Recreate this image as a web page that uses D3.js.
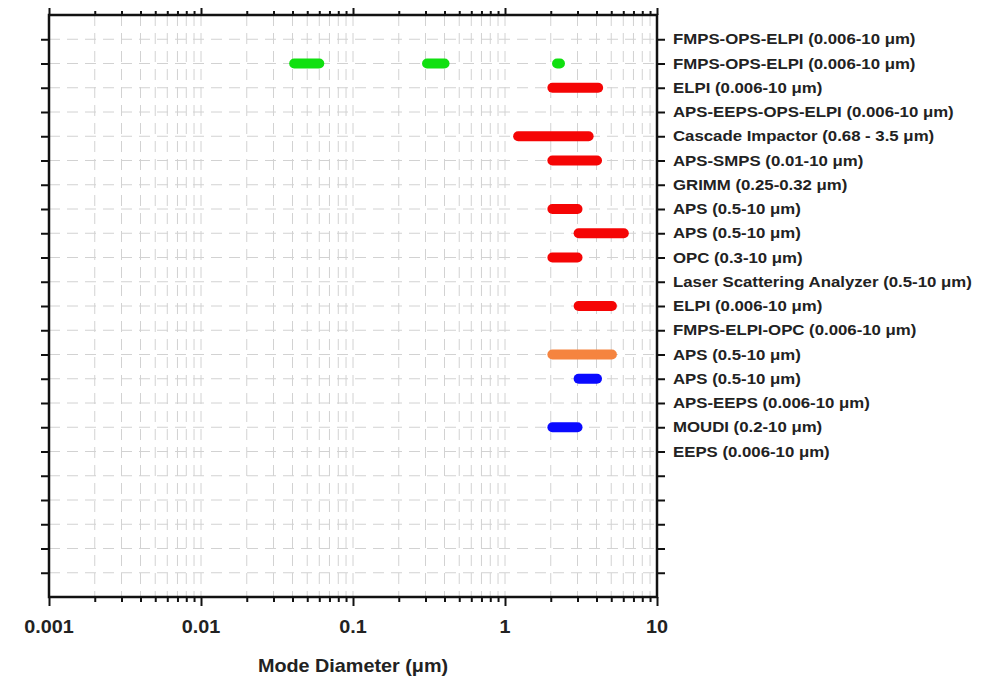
<!DOCTYPE html>
<html>
<head>
<meta charset="utf-8">
<script src="https://cdn.jsdelivr.net/npm/d3@7"></script>
<style>
  html, body { margin: 0; padding: 0; background: #fff; }
  svg { display: block; }
  text { font-family: "Liberation Sans", Arial, Helvetica, sans-serif; font-weight: bold; fill: #222; }
</style>
</head>
<body>
<svg id="chart" width="997" height="678"></svg>
<script>
// ---------- data ----------
const rowLabels = [
  "FMPS-OPS-ELPI (0.006-10 \u03BCm)",
  "FMPS-OPS-ELPI (0.006-10 \u03BCm)",
  "ELPI (0.006-10 \u03BCm)",
  "APS-EEPS-OPS-ELPI (0.006-10 \u03BCm)",
  "Cascade Impactor (0.68 - 3.5 \u03BCm)",
  "APS-SMPS (0.01-10 \u03BCm)",
  "GRIMM (0.25-0.32 \u03BCm)",
  "APS (0.5-10 \u03BCm)",
  "APS (0.5-10 \u03BCm)",
  "OPC (0.3-10 \u03BCm)",
  "Laser Scattering Analyzer (0.5-10 \u03BCm)",
  "ELPI (0.006-10 \u03BCm)",
  "FMPS-ELPI-OPC (0.006-10 \u03BCm)",
  "APS (0.5-10 \u03BCm)",
  "APS (0.5-10 \u03BCm)",
  "APS-EEPS (0.006-10 \u03BCm)",
  "MOUDI (0.2-10 \u03BCm)",
  "EEPS (0.006-10 \u03BCm)"
];
// [row (1 = top), low diameter, high diameter] in µm
const greenRanges  = [[2, 0.041, 0.060], [2, 0.307, 0.40], [2, 2.2, 2.3]];
const redRanges    = [[3, 2.05, 4.1], [5, 1.22, 3.55], [6, 2.05, 4.03], [8, 2.05, 3.0],
                      [9, 3.05, 6.05], [10, 2.05, 3.0], [12, 3.05, 5.05]];
const orangeRanges = [[14, 2.05, 5.05]];
const blueRanges   = [[15, 3.05, 4.03], [17, 2.05, 3.0]];
const xTickValues  = [0.001, 0.01, 0.1, 1, 10];
const xTickLabels  = ["0.001", "0.01", "0.1", "1", "10"];
const yRowCount = 24;   // y extent in row units
const xTitle = "Mode Diameter (\u03BCm)";

// ---------- layout ----------
const pL = 49, pR = 657, pT = 15, pB = 597;
const svg = d3.select("#chart");
const x = d3.scaleLog().domain([0.001, 10]).range([pL, pR]);
const y = d3.scaleLinear().domain([0, yRowCount]).range([pT, pB]);

const yTicks = d3.range(1, yRowCount);
const minorX = [];
[0.001, 0.01, 0.1, 1].forEach(d => { for (let m = 2; m <= 9; m++) minorX.push(d * m); });
const majorInner = [0.01, 0.1, 1];

// grid
const grid = svg.append("g").attr("stroke", "#d2d2d2").attr("stroke-width", 1)
  .attr("stroke-dasharray", "11,7").attr("fill", "none");
grid.selectAll("line.h").data(yTicks).join("line").attr("class", "h")
  .attr("x1", pL).attr("x2", pR).attr("y1", d => y(d)).attr("y2", d => y(d));
grid.selectAll("line.v").data(minorX.concat(majorInner)).join("line").attr("class", "v")
  .attr("x1", d => x(d)).attr("x2", d => x(d)).attr("y1", pT).attr("y2", pB);

// bars
const series = [
  { data: greenRanges,  color: "#10e010" },
  { data: redRanges,    color: "#f50505" },
  { data: orangeRanges, color: "#f5843f" },
  { data: blueRanges,   color: "#0a0aff" }
];
series.forEach(s => {
  svg.append("g").selectAll("line").data(s.data).join("line")
    .attr("x1", d => x(d[1])).attr("x2", d => x(d[2]))
    .attr("y1", d => y(d[0])).attr("y2", d => y(d[0]))
    .attr("stroke", s.color).attr("stroke-width", 10).attr("stroke-linecap", "round");
});

// axes
const fmtNone = () => "";
const bottomMajor = d3.axisBottom(x).tickValues(xTickValues).tickSize(9).tickFormat(fmtNone);
const bottomMinor = d3.axisBottom(x).tickValues(minorX).tickSize(5).tickFormat(fmtNone);
const topMajor = d3.axisTop(x).tickValues(xTickValues).tickSize(7).tickFormat(fmtNone);
const topMinor = d3.axisTop(x).tickValues(minorX).tickSize(4).tickFormat(fmtNone);
const leftAx = d3.axisLeft(y).tickValues(yTicks).tickSize(8).tickFormat(fmtNone);
const rightAx = d3.axisRight(y).tickValues(yTicks).tickSize(8).tickFormat(fmtNone);

function styleAxis(g) {
  g.select(".domain").remove();
  g.selectAll(".tick line").attr("stroke", "#111").attr("stroke-width", 2);
}
svg.append("g").attr("transform", `translate(0,${pB})`).call(bottomMajor).call(styleAxis);
svg.append("g").attr("transform", `translate(0,${pB})`).call(bottomMinor).call(styleAxis);
svg.append("g").attr("transform", `translate(0,${pT})`).call(topMajor).call(styleAxis);
svg.append("g").attr("transform", `translate(0,${pT})`).call(topMinor).call(styleAxis);
svg.append("g").attr("transform", `translate(${pL},0)`).call(leftAx).call(styleAxis);
svg.append("g").attr("transform", `translate(${pR},0)`).call(rightAx).call(styleAxis);

// frame
svg.append("rect").attr("x", pL).attr("y", pT).attr("width", pR - pL).attr("height", pB - pT)
  .attr("fill", "none").attr("stroke", "#111").attr("stroke-width", 2.5);

// x tick labels
svg.append("g").selectAll("text").data(xTickValues).join("text")
  .attr("transform", d => `translate(${x(d)},633) scale(1.1,1)`)
  .attr("text-anchor", "middle").attr("font-size", 18)
  .text((d, i) => xTickLabels[i]);

// x title
svg.append("text").attr("transform", `translate(${(pL + pR) / 2},672) scale(1.1,1)`)
  .attr("text-anchor", "middle").attr("font-size", 18).text(xTitle);

// row labels
svg.append("g").selectAll("text").data(rowLabels).join("text")
  .attr("transform", (d, i) => `translate(673,${y(i + 1) + 5}) scale(1.12,1)`)
  .attr("font-size", 15).text(d => d);
</script>
</body>
</html>
